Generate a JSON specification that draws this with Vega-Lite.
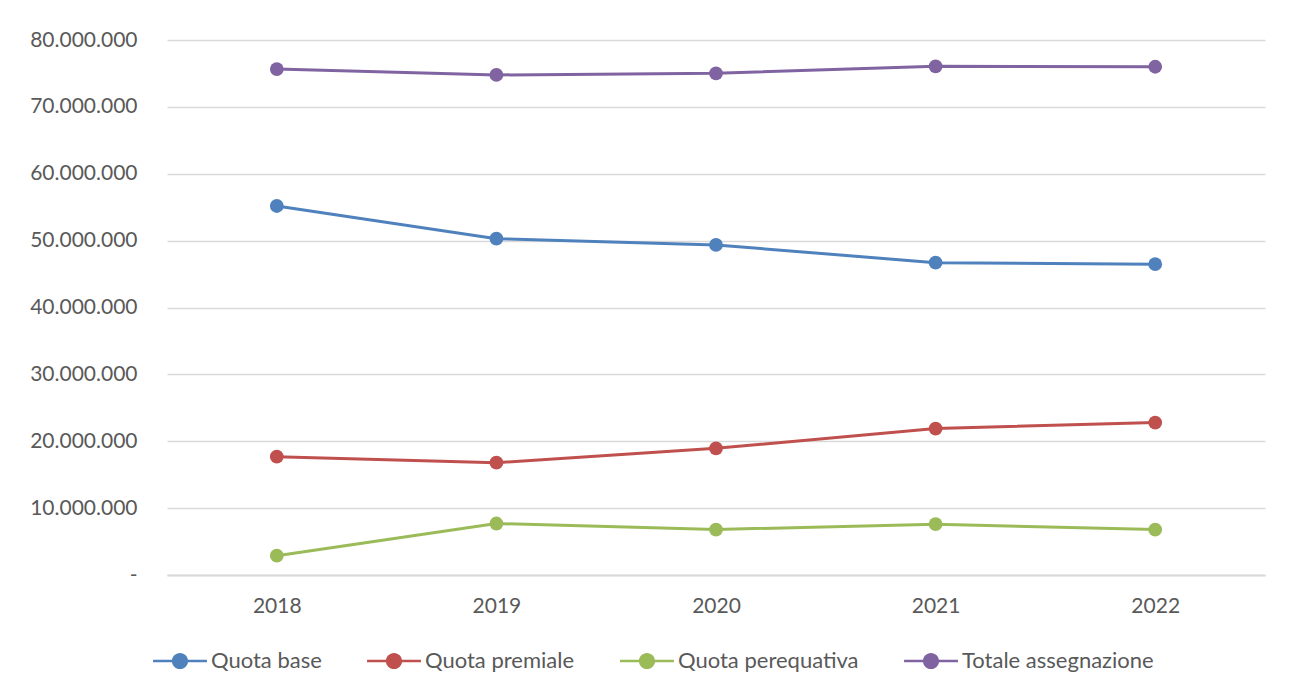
{
  "$schema": "https://vega.github.io/schema/vega-lite/v6.json",
  "width": 1098,
  "height": 535,
  "autosize": {"type": "none"},
  "padding": {"left": 167, "top": 40, "right": 28, "bottom": 118},
  "background": "white",
  "config": {
    "locale": {"number": {"decimal": ",", "thousands": ".", "grouping": [3], "currency": ["€", ""]}},
    "font": "Lato",
    "view": {"stroke": null},
    "axis": {"labelFont": "Lato", "labelColor": "#595959", "labelFontSize": 21, "title": null}
  },
  "data": {
    "values": [
      {"anno": "2018", "serie": "Quota base", "valore": 55180000},
      {"anno": "2019", "serie": "Quota base", "valore": 50290000},
      {"anno": "2020", "serie": "Quota base", "valore": 49350000},
      {"anno": "2021", "serie": "Quota base", "valore": 46700000},
      {"anno": "2022", "serie": "Quota base", "valore": 46480000},
      {"anno": "2018", "serie": "Quota premiale", "valore": 17700000},
      {"anno": "2019", "serie": "Quota premiale", "valore": 16800000},
      {"anno": "2020", "serie": "Quota premiale", "valore": 18950000},
      {"anno": "2021", "serie": "Quota premiale", "valore": 21900000},
      {"anno": "2022", "serie": "Quota premiale", "valore": 22800000},
      {"anno": "2018", "serie": "Quota perequativa", "valore": 2890000},
      {"anno": "2019", "serie": "Quota perequativa", "valore": 7700000},
      {"anno": "2020", "serie": "Quota perequativa", "valore": 6800000},
      {"anno": "2021", "serie": "Quota perequativa", "valore": 7600000},
      {"anno": "2022", "serie": "Quota perequativa", "valore": 6800000},
      {"anno": "2018", "serie": "Totale assegnazione", "valore": 75660000},
      {"anno": "2019", "serie": "Totale assegnazione", "valore": 74770000},
      {"anno": "2020", "serie": "Totale assegnazione", "valore": 75020000},
      {"anno": "2021", "serie": "Totale assegnazione", "valore": 76070000},
      {"anno": "2022", "serie": "Totale assegnazione", "valore": 76000000}
    ]
  },
  "encoding": {
    "x": {
      "field": "anno", "type": "ordinal",
      "scale": {"type": "point", "padding": 0.5},
      "axis": {"labelAngle": 0, "ticks": false, "grid": false, "domain": true, "domainColor": "#d9d9d9", "domainWidth": 2, "labelPadding": 20}
    },
    "y": {
      "field": "valore", "type": "quantitative",
      "scale": {"domain": [0, 80000000], "nice": false},
      "axis": {"values": [0, 10000000, 20000000, 30000000, 40000000, 50000000, 60000000, 70000000, 80000000], "format": ",d", "labelExpr": "datum.value == 0 ? '-' : datum.label", "ticks": false, "domain": false, "gridColor": "#d9d9d9", "gridWidth": 1.5, "labelPadding": 30}
    },
    "color": {
      "field": "serie", "type": "nominal",
      "scale": {"domain": ["Quota base", "Quota premiale", "Quota perequativa", "Totale assegnazione"], "range": ["#4F81BD", "#C0504D", "#9BBB59", "#8064A2"]},
      "legend": {
        "orient": "none", "direction": "horizontal", "legendX": -14, "legendY": 594, "title": null,
        "symbolType": "M-1,-0.05 H-0.29 V0.05 H-1 Z M0.29,-0.05 H1 V0.05 H0.29 Z M0.3,0 A0.3,0.3 0 1,1 -0.3,0 A0.3,0.3 0 1,1 0.3,0 Z",
        "symbolSize": 2900, "symbolStrokeWidth": 0, "symbolOpacity": 1,
        "labelFont": "Lato", "labelFontSize": 22, "labelColor": "#595959", "labelOffset": 4, "labelLimit": 500, "columnPadding": 45
      }
    }
  },
  "layer": [
    {"mark": {"type": "line", "strokeWidth": 3}},
    {"mark": {"type": "point", "filled": true, "size": 190, "opacity": 1}}
  ]
}
